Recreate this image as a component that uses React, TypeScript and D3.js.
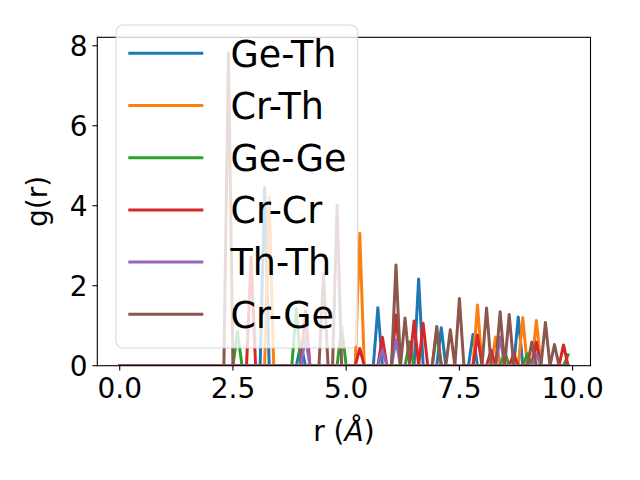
import React from "react";
import * as d3 from "d3";

// sample grid of r (Å)
const rGrid: number[] = d3.range(100).map((i) => Math.round(i) / 10);

const seriesNames = ["Ge-Th", "Cr-Th", "Ge-Ge", "Cr-Cr", "Th-Th", "Cr-Ge"];
const seriesColors = ["#1f77b4", "#ff7f0e", "#2ca02c", "#d62728", "#9467bd", "#8c564b"];

// nonzero samples [r, g(r)]; all other samples are 0
const geThPeaks: [number, number][] = [
  [3.2, 4.47], [4.0, 0.55], [5.7, 1.45], [6.6, 2.17], [7.1, 0.95], [7.8, 0.78], [8.8, 1.22],
];
const crThPeaks: [number, number][] = [
  [3.3, 4.21], [5.3, 3.31], [7.9, 1.52], [8.3, 0.72], [8.9, 1.2], [9.2, 1.13],
];
const geGePeaks: [number, number][] = [
  [2.6, 0.85], [3.9, 1.43], [4.9, 0.98], [6.4, 0.6], [7.0, 0.85], [8.5, 0.35], [9.0, 0.3], [9.9, 0.27],
];
const crCrPeaks: [number, number][] = [
  [2.9, 2.72], [4.1, 1.37], [5.3, 0.43], [5.8, 0.71], [6.1, 1.27], [6.5, 1.12], [6.7, 1.06],
  [7.9, 0.77], [8.2, 0.39], [8.7, 0.3], [9.2, 0.59], [9.8, 0.52],
];
const thThPeaks: [number, number][] = [
  [4.1, 0.73], [5.8, 0.39], [6.1, 0.64], [8.4, 0.72], [9.2, 0.3],
];
const crGePeaks: [number, number][] = [
  [2.4, 7.82], [4.5, 2.3], [4.8, 4.02], [6.1, 2.52], [6.3, 1.19], [7.0, 0.98], [7.3, 0.9],
  [7.5, 1.68], [8.1, 1.44], [8.4, 1.35], [8.6, 1.28], [9.1, 0.59], [9.4, 1.08], [9.6, 0.53],
];
const allPeaks = [geThPeaks, crThPeaks, geGePeaks, crCrPeaks, thThPeaks, crGePeaks];

const xTicks = [0, 2.5, 5, 7.5, 10];
const yTicks = [0, 2, 4, 6, 8];

function buildSeries(peaks: [number, number][]): [number, number][] {
  return rGrid.map((r) => {
    const p = peaks.find((q) => Math.abs(q[0] - r) < 1e-6);
    return [r, p ? p[1] : 0];
  });
}

export default function App() {
  const left = 97.3, right = 590.5, top = 37.3, bottom = 365.7;
  const xMin = 0, xMax = 9.9;
  const pad = (xMax - xMin) * 0.05;
  const x = d3.scaleLinear().domain([xMin - pad, xMax + pad]).range([left, right]);
  const yMaxData = d3.max(allPeaks.flat(), (d) => d[1]) as number;
  const y = d3.scaleLinear().domain([0, yMaxData * 1.05]).range([bottom, top]);
  const line = d3
    .line<[number, number]>()
    .x((d) => x(d[0]))
    .y((d) => y(d[1]));

  const font = "DejaVu Sans";
  const tickFs = 28;
  const legFs = 36.5;
  const tickLen = 4.86;
  const lw = 3;
  const legendY = [53.3, 105.5, 157.7, 209.9, 262.1, 314.3];

  return (
    <svg
      width={640}
      height={480}
      style={{ position: "absolute", left: 0, top: 0, background: "#fff" }}
      fontFamily={font}
    >
      <rect x={0} y={0} width={640} height={480} fill="#fff" />
      <defs>
        <clipPath id="axclip">
          <rect x={left} y={top} width={right - left} height={bottom - top} />
        </clipPath>
      </defs>
      <g clipPath="url(#axclip)">
        {allPeaks.map((pk, i) => (
          <path
            key={i}
            d={line(buildSeries(pk)) || ""}
            fill="none"
            stroke={seriesColors[i]}
            strokeWidth={lw}
            strokeLinejoin="round"
            strokeLinecap="square"
          />
        ))}
      </g>
      {/* spines */}
      <rect x={left} y={top} width={right - left} height={bottom - top} fill="none" stroke="#000" strokeWidth={1.1} />
      {/* x ticks */}
      {xTicks.map((t) => (
        <g key={"x" + t}>
          <line x1={x(t)} x2={x(t)} y1={bottom} y2={bottom + tickLen} stroke="#000" strokeWidth={1.1} />
          <text x={x(t)} y={398} fontSize={tickFs} textAnchor="middle" fill="#000">
            {t.toFixed(1)}
          </text>
        </g>
      ))}
      {/* y ticks */}
      {yTicks.map((t) => (
        <g key={"y" + t}>
          <line x1={left - tickLen} x2={left} y1={y(t)} y2={y(t)} stroke="#000" strokeWidth={1.1} />
          <text x={left - tickLen - 4.86} y={y(t) + 0.36 * tickFs} fontSize={tickFs} textAnchor="end" fill="#000">
            {String(t)}
          </text>
        </g>
      ))}
      {/* axis labels */}
      <text x={(left + right) / 2} y={441} fontSize={tickFs} textAnchor="middle" fill="#000">
        r (<tspan fontStyle="italic">Å</tspan>)
      </text>
      <text
        transform={`translate(${47},${(top + bottom) / 2}) rotate(-90)`}
        fontSize={tickFs}
        textAnchor="middle"
        fill="#000"
      >
        g(r)
      </text>
      {/* legend */}
      <rect
        x={116}
        y={25}
        width={241.7}
        height={323}
        rx={7}
        ry={7}
        fill="#fff"
        fillOpacity={0.8}
        stroke="#cccccc"
        strokeOpacity={0.8}
        strokeWidth={1.1}
      />
      {seriesNames.map((name, i) => (
        <g key={name}>
          <line x1={128.3} x2={203.3} y1={legendY[i]} y2={legendY[i]} stroke={seriesColors[i]} strokeWidth={lw} />
          <text x={230.5} y={legendY[i] + 13.2} fontSize={legFs} fill="#000">
            {name}
          </text>
        </g>
      ))}
    </svg>
  );
}
